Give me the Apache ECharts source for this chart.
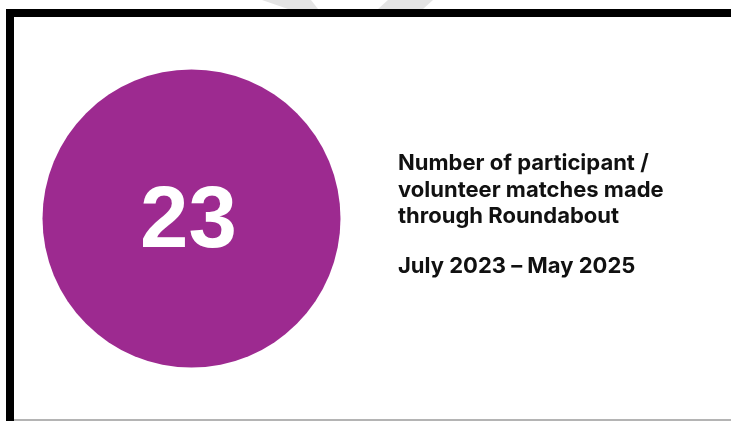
<!DOCTYPE html>
<html>
<head>
<meta charset="utf-8">
<script src="https://cdn.jsdelivr.net/npm/echarts@6/dist/echarts.min.js"></script>
<style>
  html, body { margin: 0; padding: 0; background: #ffffff; }
  #chart { width: 731px; height: 421px; }
</style>
</head>
<body>
<div id="chart"></div>
<script>
// Headline figure shown inside the circle
const metricNames = ['Participant / volunteer matches'];
const metricValues = [23];

// Caption beside the circle
const captionLines = [
  'Number of participant /',
  'volunteer matches made',
  'through Roundabout'
];
const periodLabel = 'July 2023 \u2013 May 2025';

const chart = echarts.init(document.getElementById('chart'), null, { renderer: 'canvas' });

const captionFont = 'bold 22px "Inter", "Noto Sans", sans-serif';

const option = {
  backgroundColor: '#ffffff',
  animation: false,
  graphic: [
    // faint diagonal strokes peeking above the frame
    {
      type: 'polygon', silent: true, z: 0,
      shape: { points: [[262, 0], [311, 0], [318, 9], [288, 9]] },
      style: { fill: '#e4e4e4' }
    },
    {
      type: 'polygon', silent: true, z: 0,
      shape: { points: [[388, 0], [433, 0], [423, 9], [378, 9]] },
      style: { fill: '#e4e4e4' }
    },
    // frame: black top and left edges, thin grey bottom edge
    {
      type: 'rect', silent: true, z: 1,
      shape: { x: 6, y: 9, width: 725, height: 8 },
      style: { fill: '#000000' }
    },
    {
      type: 'rect', silent: true, z: 1,
      shape: { x: 6, y: 9, width: 8, height: 412 },
      style: { fill: '#000000' }
    },
    {
      type: 'rect', silent: true, z: 1,
      shape: { x: 14, y: 419, width: 717, height: 2 },
      style: { fill: '#b4b4b4' }
    },
    // caption text
    {
      type: 'group', left: 398, top: 152.5, z: 2,
      children: captionLines.map(function (line, i) {
        return {
          type: 'text',
          style: {
            x: 0, y: i * 26.5,
            text: line,
            fill: '#111111',
            font: captionFont
          }
        };
      }).concat([{
        type: 'text',
        style: {
          x: 0, y: 3 * 26.5 + 23,
          text: periodLabel,
          fill: '#111111',
          font: captionFont
        }
      }])
    }
  ],
  series: [{
    type: 'pie',
    center: [191.5, 218.5],
    radius: [0, 149],
    silent: true,
    startAngle: 90,
    itemStyle: { color: '#9d2a90', borderWidth: 0 },
    label: {
      show: true,
      position: 'center',
      formatter: '{c}',
      color: '#ffffff',
      fontFamily: '"Liberation Sans", Arial, sans-serif',
      fontWeight: 'bold',
      fontSize: 87,
      offset: [-3, 5]
    },
    labelLine: { show: false },
    emphasis: { disabled: true },
    data: metricNames.map(function (n, i) { return { name: n, value: metricValues[i] }; })
  }]
};

chart.setOption(option);
</script>
</body>
</html>
